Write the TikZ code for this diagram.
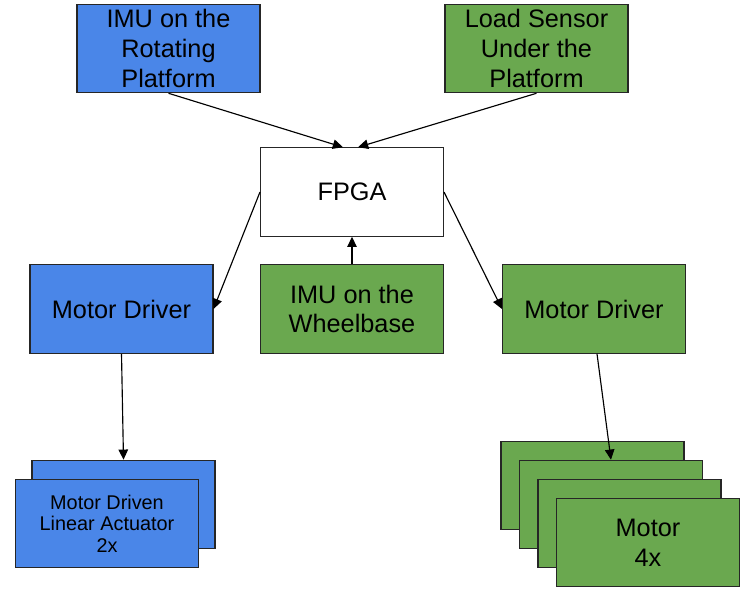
\documentclass[tikz,border=0pt]{standalone}
\usepackage{fontspec}
\setmainfont{Liberation Sans}
\usetikzlibrary{arrows.meta,calc}
\definecolor{boxblue}{HTML}{4A86E8}
\definecolor{boxgreen}{HTML}{6AA84F}

\begin{document}
\begin{tikzpicture}[x=0.02cm, y=-0.02cm, >={Triangle[length=5.8pt,width=5.4pt]},
    blk/.style={draw=black!85, line width=0.6pt, minimum width=3.66cm, minimum height=1.77cm,
        inner sep=0pt, align=center, font=\fontsize{14.4}{17}\selectfont},
    bluebox/.style={blk, fill=boxblue},
    greenbox/.style={blk, fill=boxgreen},
    link/.style={->, line width=0.65pt}]

    \useasboundingbox (0,0) rectangle (744,589);

    % 1. 上方两个传感器
    \node[bluebox]  (imuR) at (168.5,48.5) {IMU on the\\Rotating\\Platform};
    \node[greenbox] (load) at (536.5,48.5) {Load Sensor\\Under the\\Platform};

    % 2. 中间的 FPGA 和底座 IMU
    \node[blk, fill=white] (fpga) at (352,192) {FPGA};
    \node[greenbox] (imuW) at (352,309) {IMU on the\\Wheelbase};

    % 3. 两个电机驱动
    \node[bluebox]  (mdL) at (121.5,309) {Motor Driver};
    \node[greenbox] (mdR) at (594,309) {Motor Driver};

    % 4. 线性执行器 (叠放两层)
    \node[bluebox] (actB) at (123.5,504.5) {};
    \node[bluebox, font=\fontsize{11.3}{12.3}\selectfont] (actF) at (107,523.5)
        {Motor Driven\\Linear Actuator\\2x};

    % 5. 电机 (叠放四层)
    \node[greenbox] (mot1) at (592.5,485.5) {};
    \node[greenbox] (mot2) at (611,504.5) {};
    \node[greenbox] (mot3) at (629.5,523.5) {};
    \node[greenbox] (mot4) at (648,542.5) {Motor\\4x};

    % 6. 连线
    \draw[link] (imuR.south) -- ($(fpga.north)+(-9,0)$);
    \draw[link] (load.south) -- ($(fpga.north)+(6,0)$);
    \draw[link] (imuW.north) -- (fpga.south);
    \draw[link] (fpga.west) -- (mdL.east);
    \draw[link] (fpga.east) -- (mdR.west);
    \draw[link] (mdL.south) -- (actB.north);
    \draw[link] ($(mdR.south)+(3,0)$) -- (mot2.north);

\end{tikzpicture}
\end{document}
